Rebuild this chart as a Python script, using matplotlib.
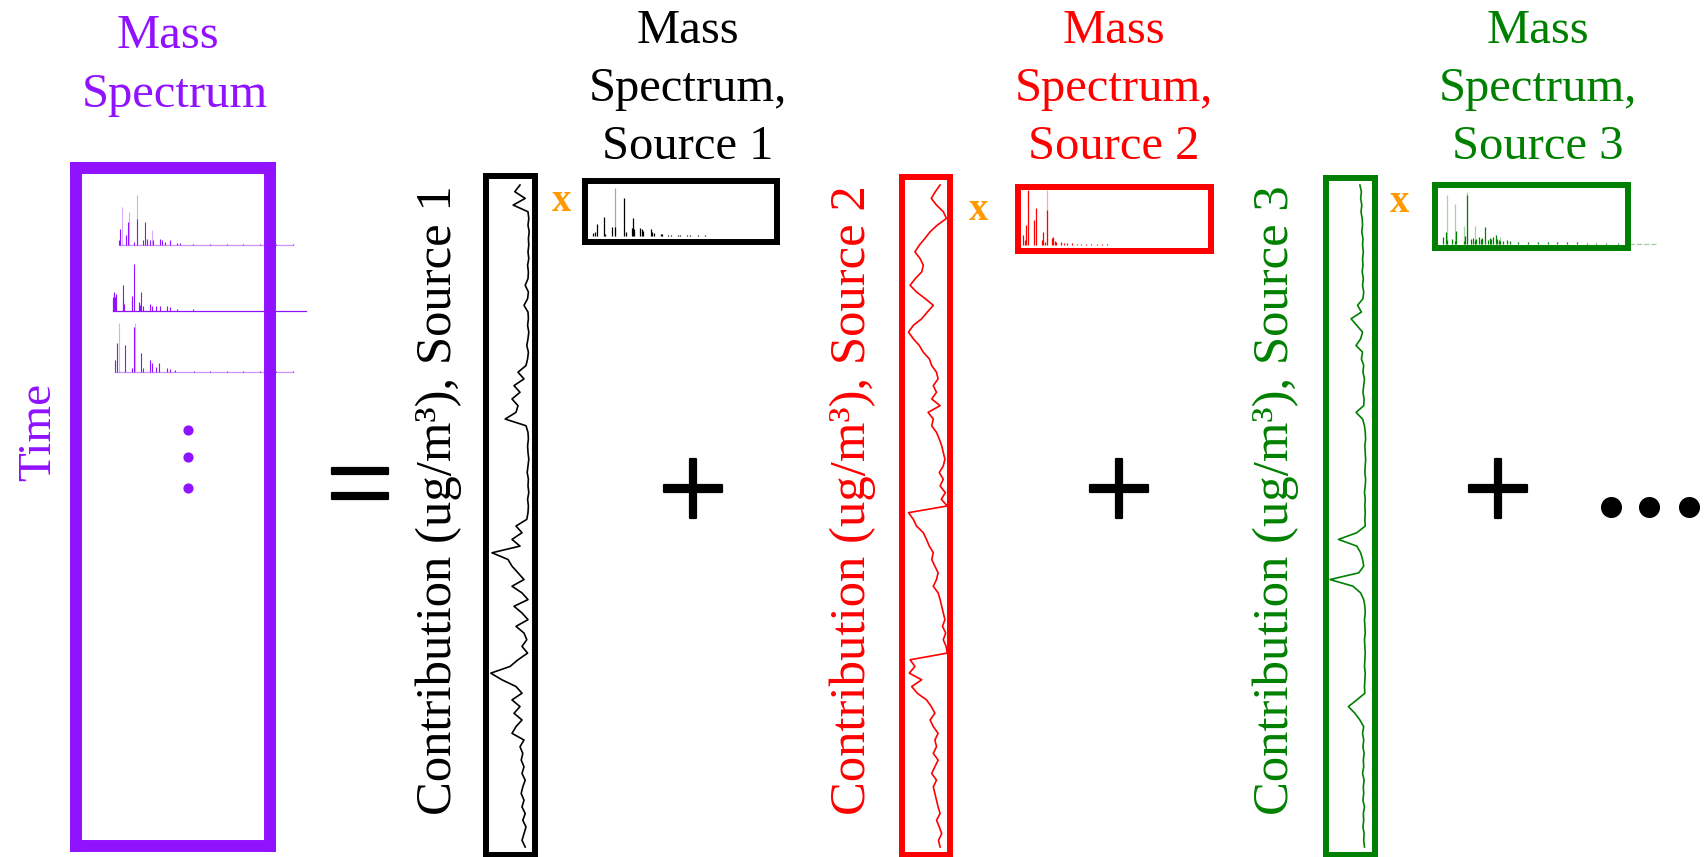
import matplotlib
matplotlib.use('Agg')
import matplotlib.pyplot as plt
import matplotlib.patheffects as pe
import numpy as np

plt.rcParams['font.family'] = ['Liberation Serif', 'DejaVu Serif']

# 颜色
PURPLE = '#9112FE'
ORANGE = '#FF9900'
RED = '#FF0000'
GREEN = '#008000'

# 贡献时间序列 (相对宽度, 从上到下)
src1_contrib = [0.25, 0.38, 0.12, 0.42, 0.05, 0.03, 0.05, 0.02, 0.04, 0.03,
                0.05, 0.03, 0.06, 0.04, 0.05, 0.12, 0.04, 0.06, 0.15, 0.05,
                0.04, 0.06, 0.03, 0.05, 0.08, 0.04, 0.06, 0.10, 0.30, 0.15,
                0.40, 0.25, 0.45, 0.30, 0.35, 0.62, 0.10, 0.05, 0.04, 0.06,
                0.05, 0.03, 0.05, 0.07, 0.04, 0.05, 0.03, 0.06, 0.04, 0.05,
                0.08, 0.35, 0.20, 0.45, 0.25, 0.95, 0.55, 0.45, 0.30, 0.15,
                0.45, 0.20, 0.05, 0.40, 0.20, 0.05, 0.35, 0.15, 0.08, 0.20,
                0.06, 0.30, 0.50, 0.98, 0.70, 0.35, 0.20, 0.45, 0.25, 0.40,
                0.20, 0.35, 0.45, 0.15, 0.25, 0.18, 0.22, 0.15, 0.20, 0.12,
                0.18, 0.22, 0.15, 0.20, 0.12, 0.18, 0.10, 0.15, 0.20, 0.12]
src2_contrib = [0.18, 0.30, 0.40, 0.27, 0.10, 0.02,
                0.25, 0.43, 0.56, 0.70, 0.81, 0.68, 0.60, 0.64, 0.80, 0.93,
                0.77, 0.55, 0.35, 0.50, 0.64, 0.85, 0.97, 0.85, 0.70, 0.60, 0.45,
                0.39, 0.27, 0.23, 0.35, 0.27, 0.39, 0.18, 0.48, 0.35, 0.39,
                0.27, 0.20, 0.14, 0.10, 0.06,
                0.10, 0.20, 0.10, 0.18, 0.05, 0.15, 0.00,
                0.97,
                0.85, 0.77, 0.60, 0.52, 0.45, 0.35, 0.39, 0.31, 0.23, 0.27,
                0.35, 0.23, 0.18, 0.14,
                0.10, 0.06, 0.12, 0.04, 0.10, 0.03, 0.00,
                0.93,
                0.81, 0.95, 0.64, 0.89, 0.75, 0.52,
                0.40, 0.31, 0.43, 0.35, 0.23, 0.31, 0.27, 0.35, 0.23, 0.31,
                0.39, 0.27, 0.35, 0.31, 0.27, 0.23, 0.18, 0.27, 0.20, 0.14,
                0.22, 0.18]
src3_contrib = [0.22, 0.18, 0.20, 0.17, 0.19, 0.16, 0.15, 0.17, 0.14, 0.15,
                0.13, 0.15, 0.14, 0.16, 0.13, 0.15, 0.12, 0.14,
                0.28, 0.18, 0.45, 0.30, 0.15, 0.20,
                0.32, 0.15, 0.18, 0.12, 0.14, 0.10, 0.12, 0.14, 0.11, 0.12,
                0.32, 0.15, 0.10,
                0.08, 0.07, 0.09, 0.08, 0.07, 0.08, 0.09, 0.07, 0.08, 0.10,
                0.08, 0.09, 0.08, 0.09, 0.08,
                0.30, 0.78, 0.30,
                0.20, 0.15, 0.12, 0.25,
                1.00, 0.40, 0.20,
                0.12, 0.09, 0.08, 0.10, 0.09, 0.08, 0.10, 0.09, 0.08, 0.09,
                0.10, 0.08, 0.09, 0.10, 0.09,
                0.30, 0.52, 0.35, 0.22, 0.12,
                0.15, 0.12, 0.14, 0.11, 0.13, 0.12, 0.15, 0.11, 0.13, 0.12,
                0.14, 0.10, 0.13, 0.12, 0.14, 0.11, 0.12, 0.10]

# 源谱 (m/z, 实线强度, 浅色强度)
s1_mz = [12, 15, 18, 27, 29, 39, 43, 55, 57, 65, 67, 69, 77, 79, 81, 91, 93, 95,
         105, 107, 115, 119, 128, 131, 141, 145, 155, 165]
s1_solid = [5.5, 9, 24, 39, 5, 19, 19, 78, 8, 17, 38, 14, 17, 14, 10, 14, 8, 7,
            5, 4, 3, 3, 2.5, 2, 2, 2, 1.5, 1.5]
s1_light = [0, 0, 0, 0, 0, 0, 100, 0, 0, 0, 0, 0, 0, 0, 0, 0, 0, 0,
            0, 0, 0, 0, 0, 0, 0, 0, 0, 0]

s2_mz = [12, 14, 16, 18, 27, 29, 37, 39, 41, 44, 51, 53, 55, 57, 64, 67, 71, 78,
         85, 91, 98, 105, 113, 120, 126]
s2_solid = [18, 9, 36, 100, 45, 67, 9, 24, 6, 64, 12, 15, 7, 5, 5, 3, 4, 3,
            2.5, 2, 1.5, 1.5, 1.2, 1, 1]
s2_light = [0, 0, 0, 0, 0, 0, 0, 0, 0, 100, 0, 0, 0, 0, 0, 0, 0, 0,
            0, 0, 0, 0, 0, 0, 0]

s3_mz = [12, 15, 17, 24, 27, 29, 39, 41, 43, 49, 51, 54, 55, 60, 62, 64, 67, 71,
         74, 76, 78, 82, 84, 86, 88, 92, 97, 101, 112, 125, 138, 151, 164, 177,
         190, 203, 216, 229, 245, 260, 272, 284, 295]
s3_solid = [13, 23, 8, 10, 6, 26, 6, 16, 94, 10, 12, 8, 10, 13, 10, 12, 32, 8,
            12, 10, 13, 18, 10, 8, 6, 6, 8, 5, 4, 4, 3.5, 3.5, 3, 3,
            3, 2.5, 2.5, 2.5, 2, 0, 0, 0, 0]
s3_light = [0, 0, 95, 0, 77, 0, 35, 0, 100, 0, 0, 35, 0, 0, 0, 0, 0, 0,
            0, 0, 0, 0, 0, 0, 13, 0, 0, 0, 0, 0, 0, 0, 0, 0,
            0, 0, 0, 0, 0, 2, 2, 2, 2]

# 总质谱 (三个时间点)
p1_mz = [12, 15, 17, 25, 28, 29, 38, 42, 43, 52, 56, 60, 64, 67, 70, 81, 84, 89,
         98, 109, 114, 136, 164, 192, 220, 248, 275, 303]
p1_solid = [10, 33, 0, 20, 47, 0, 7, 53, 0, 10, 47, 13, 10, 0, 10, 13, 10, 7,
            10, 5, 4, 2, 2, 2, 2, 2, 2, 2]
p1_light = [0, 0, 77, 0, 0, 67, 0, 0, 100, 0, 0, 0, 0, 30, 0, 0, 0, 0,
            0, 0, 0, 0, 0, 0, 0, 0, 0, 0]

p2_mz = [12, 13, 14, 15, 16, 17, 18, 29, 30, 31, 44, 45, 47, 56, 58, 60, 63, 74,
         77, 85, 91, 102, 108, 119, 146, 335]
p2_solid = [29, 25, 35, 39, 30, 36, 33, 54, 20, 14, 32, 20, 100, 18, 12, 39, 11, 14,
            11, 11, 11, 11, 7, 4, 4, 0]
p2_light = [0] * len(p2_mz)

p3_mz = [12, 15, 18, 28, 40, 44, 45, 55, 59, 70, 73, 81, 86, 98, 104, 112, 143,
         170, 198, 226, 254, 281, 309]
p3_solid = [24, 59, 0, 55, 7, 93, 0, 38, 7, 24, 17, 10, 17, 7, 6, 3.5, 1.5,
            1.5, 1.5, 1.5, 1.5, 1.5, 1.5]
p3_light = [0, 0, 100, 0, 0, 0, 100, 0, 0, 0, 0, 0, 0, 0, 0, 0, 0,
            0, 0, 0, 0, 0, 0]

W, H = 1708, 857
fig = plt.figure(figsize=(W / 100, H / 100), dpi=100)

# 覆盖层, 像素坐标
overlay = fig.add_axes([0, 0, 1, 1])
overlay.set_xlim(0, W)
overlay.set_ylim(H, 0)
overlay.axis('off')


def px_axes(l, t, r, b, zorder=1):
    ax = fig.add_axes([l / W, 1 - b / H, (r - l) / W, (b - t) / H], zorder=zorder)
    ax.set_facecolor('none')
    ax.set_xticks([])
    ax.set_yticks([])
    return ax


def map_limits(ax, box, x_at, x0, kx, y_at, y0, ky):
    # 像素 x = x_at + (x - x0) * kx ; 像素 y(向下) = y_at - (y - y0) * ky
    l, t, r, b = box
    ax.set_xlim(x0 + (l - x_at) / kx, x0 + (r - x_at) / kx)
    ax.set_ylim(y0 + (y_at - b) / ky, y0 + (y_at - t) / ky)


def frame(ax, color, lw):
    for sp in ax.spines.values():
        sp.set_color(color)
        sp.set_linewidth(lw)


def draw_spectrum(ax, mz, solid, light, color, clip=True, lw=0.9):
    mz = np.array(mz)
    solid = np.array(solid, dtype=float)
    light = np.array(light, dtype=float)
    m = light > 0
    ax.vlines(mz[m], 0, light[m], colors=color, alpha=0.35, lw=lw, clip_on=clip)
    m = solid > 0
    ax.vlines(mz[m], 0, solid[m], colors=color, lw=lw, clip_on=clip)


# ---- 左侧总质谱矩阵 ----
purple_specs = [
    (p1_mz, p1_solid, p1_light, 118.7, 245.0, 0.50, 0.45),
    (p2_mz, p2_solid, p2_light, 112.7, 310.7, 0.467, 1.0),
    (p3_mz, p3_solid, p3_light, 115.0, 371.7, 0.483, 0.45),
]
for mz, solid, light, x12, base, s, base_alpha in purple_specs:
    box = (85, base - 60, 320, base + 4)
    ax = px_axes(*box)
    ax.axis('off')
    map_limits(ax, box, x12, 12, 0.6, base, 0, s)
    draw_spectrum(ax, mz, solid, light, PURPLE, clip=False, lw=0.8)
    ax.plot([mz[0], mz[-1]], [0, 0], color=PURPLE, lw=0.9, alpha=base_alpha,
            clip_on=False)

ax_main = px_axes(76, 168, 270, 846, zorder=3)
frame(ax_main, PURPLE, 8.6)

overlay.scatter([188, 188, 188], [430, 457, 488], s=40, color=PURPLE)
overlay.text(168, 48, 'Mass', color=PURPLE, fontsize=35, ha='center', va='baseline')
overlay.text(175, 107, 'Spectrum', color=PURPLE, fontsize=35, ha='center', va='baseline')
overlay.text(50, 432, 'Time', color=PURPLE, fontsize=34, rotation=90,
             rotation_mode='anchor', ha='center', va='baseline')

thick = [pe.withStroke(linewidth=1.6, foreground='black')]
overlay.text(360, 524, '=', color='black', fontsize=88, ha='center', va='baseline',
             path_effects=thick)

# ---- 三个源 ----
sources = [
    dict(color='black', contrib=src1_contrib, name='Source 1',
         ts_box=(486, 176, 535, 855), ts_base=530.0, ts_k=40.0,
         sp_box=(584.5, 180.5, 776.5, 241.5), sp_x12=592.7, sp_k=0.733, sp_base=236.0, sp_s=0.483,
         mz=s1_mz, solid=s1_solid, lt=s1_light,
         label_x=451, x_pos=(562, 211), title_x=688, plus_x=693),
    dict(color=RED, contrib=src2_contrib, name='Source 2',
         ts_box=(902.5, 177, 950, 855), ts_base=947.3, ts_k=40.0,
         sp_box=(1018.5, 186.5, 1210.5, 250.5), sp_x12=1023.3, sp_k=0.733, sp_base=245.0, sp_s=0.55,
         mz=s2_mz, solid=s2_solid, lt=s2_light,
         label_x=865, x_pos=(979, 220), title_x=1114, plus_x=1119),
    dict(color=GREEN, contrib=src3_contrib, name='Source 3',
         ts_box=(1326, 178, 1375, 855), ts_base=1368.3, ts_k=38.3,
         sp_box=(1435.5, 184.5, 1628.5, 247.5), sp_x12=1443.3, sp_k=0.75, sp_base=244.0, sp_s=0.517,
         mz=s3_mz, solid=s3_solid, lt=s3_light,
         label_x=1288, x_pos=(1400, 212), title_x=1538, plus_x=1498),
]

for src in sources:
    c = src['color']
    # 时间序列
    ax = px_axes(*src['ts_box'])
    map_limits(ax, src['ts_box'], src['ts_base'], 0, -src['ts_k'], 185, 0, -6.687)
    ax.plot(src['contrib'], np.arange(len(src['contrib'])), color=c, lw=1.2)
    frame(ax, c, 4.3)

    # 源谱
    ax = px_axes(*src['sp_box'])
    map_limits(ax, src['sp_box'], src['sp_x12'], 12, src['sp_k'], src['sp_base'], 0, src['sp_s'])
    mz = np.array(src['mz'])
    lt = np.array(src['lt'], dtype=float)
    solid = np.array(src['solid'], dtype=float)
    inside = mz < 250
    draw_spectrum(ax, mz[inside], solid[inside], lt[inside], c)
    out = ~inside
    if out.any():
        ax.plot(mz[out], lt[out] * 0, color=c, lw=1.0, alpha=0.35, ls='--', clip_on=False)
    frame(ax, c, 4.3)

    overlay.text(src['label_x'], 500, 'Contribution (ug/m³), ' + src['name'], color=c,
                 fontsize=36.5, rotation=90, rotation_mode='anchor',
                 ha='center', va='baseline')
    overlay.text(src['x_pos'][0], src['x_pos'][1], 'x', color=ORANGE, fontsize=28,
                 fontweight='bold', ha='center', va='baseline')
    overlay.text(src['title_x'], 43, 'Mass', color=c, fontsize=35, ha='center', va='baseline')
    overlay.text(src['title_x'], 101, 'Spectrum,', color=c, fontsize=35, ha='center', va='baseline')
    overlay.text(src['title_x'], 159, src['name'], color=c, fontsize=35, ha='center', va='baseline')
    overlay.text(src['plus_x'], 530, '+', color='black', fontsize=90, ha='center',
                 va='baseline', path_effects=thick)

overlay.scatter([1611, 1649, 1689], [507, 507, 507], s=200, color='black')

fig.savefig('out.png', dpi=100)
